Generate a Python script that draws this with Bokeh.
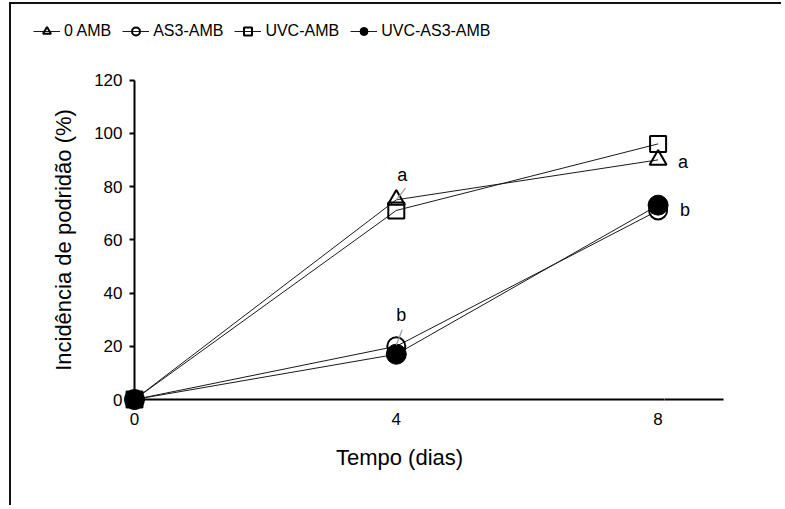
from bokeh.plotting import figure
from bokeh.models import Range1d, FixedTicker, Legend, LegendItem
from bokeh.core.properties import value
from bokeh.embed import file_html
from bokeh.resources import INLINE

# ---- data ----
days = [0, 4, 8]
amb_0 = [0, 75, 90]
as3_amb = [0, 20, 71]
uvc_amb = [0, 71, 96]
uvc_as3_amb = [0, 17, 73]
series_names = ["0 AMB", "AS3-AMB", "UVC-AMB", "UVC-AS3-AMB"]
x_ticks = [0, 4, 8]
y_ticks = [0, 20, 40, 60, 80, 100, 120]
x_title = "Tempo (dias)"
y_title = "Incidência de podridão (%)"
sig_letters = ["a", "b", "a", "b"]

FONT = "Liberation Sans"

# ---- layout: the frame fills the whole canvas; axes sit at the data origin ----
W, H = 772, 503            # canvas size (starts at page x=11, y=4)
X0_PX, X_PX_PER_UNIT = 123, 65.45   # canvas x of day 0, pixels per day
Y0_PX, Y_PX_PER_UNIT = 395, 2.6625  # canvas y of 0 %, pixels per %
x_range = Range1d(-X0_PX / X_PX_PER_UNIT, (W - X0_PX) / X_PX_PER_UNIT)
y_range = Range1d(-(H - Y0_PX) / Y_PX_PER_UNIT, Y0_PX / Y_PX_PER_UNIT)

p = figure(width=W, height=H, output_backend="svg", toolbar_location=None,
           x_range=x_range, y_range=y_range,
           min_border_left=0, min_border_right=0, min_border_top=0, min_border_bottom=0,
           styles={"margin-left": "9px", "margin-top": "2px",
                   "border-left": "2px solid #111", "border-top": "2px solid #111"})
p.grid.visible = False
p.outline_line_color = None
p.background_fill_color = "white"
p.border_fill_color = "white"

# x axis (its title is centred on the 0..8.1 span, as in the original chart)
xa = p.xaxis[0]
xa.fixed_location = 0
xa.bounds = (0, 8.1)
xa.ticker = FixedTicker(ticks=x_ticks)
xa.major_tick_out = 0
xa.major_tick_in = 0
xa.minor_tick_out = 0
xa.minor_tick_in = 0
xa.axis_line_width = 2
xa.axis_line_color = "black"
xa.major_label_text_font = FONT
xa.major_label_text_font_size = "17px"
xa.major_label_text_color = "black"
xa.major_label_standoff = 13
xa.axis_label = x_title
xa.axis_label_text_font = FONT
xa.axis_label_text_font_size = "22px"
xa.axis_label_text_font_style = "normal"
xa.axis_label_text_color = "black"
xa.axis_label_standoff = 17
# the rest of the x axis line, out to day 9
p.segment(x0=[8.1], y0=[0], x1=[9.0], y1=[0], line_color="black", line_width=2)

# y axis
ya = p.yaxis[0]
ya.fixed_location = 0
ya.bounds = (0, 120)
ya.ticker = FixedTicker(ticks=y_ticks)
ya.major_tick_out = 5
ya.major_tick_in = 0
ya.major_tick_line_width = 2
ya.major_tick_line_color = "black"
ya.minor_tick_out = 0
ya.minor_tick_in = 0
ya.axis_line_width = 2
ya.axis_line_color = "black"
ya.major_label_text_font = FONT
ya.major_label_text_font_size = "17px"
ya.major_label_text_color = "black"
ya.major_label_standoff = 7
ya.axis_label = y_title
ya.axis_label_text_font = FONT
ya.axis_label_text_font_size = "22px"
ya.axis_label_text_font_style = "normal"
ya.axis_label_text_color = "black"
ya.axis_label_standoff = 15

LINE_COL = "#1a1a1a"
series = [amb_0, as3_amb, uvc_amb, uvc_as3_amb]
lines = [p.line(days, s, line_color=LINE_COL, line_width=1) for s in series]

m_tri = p.scatter(days, amb_0, marker="triangle", size=17, fill_color=None,
                  line_color="black", line_width=2)
m_oc = p.scatter(days, as3_amb, marker="circle", size=18, fill_color=None,
                 line_color="black", line_width=2)
m_sq = p.scatter(days, uvc_amb, marker="square", size=16, fill_color=None,
                 line_color="black", line_width=2)
m_fc = p.scatter(days, uvc_as3_amb, marker="circle", size=20, fill_color="black",
                 line_color="black", line_width=1)
markers = [m_tri, m_oc, m_sq, m_fc]

# significance letters and leader lines
sig_x = [days[1], days[1], days[2], days[2]]
sig_y = [amb_0[1], as3_amb[1], amb_0[2], as3_amb[2]]
p.segment(x0=[days[1], days[1]], y0=[amb_0[1], as3_amb[1] + 0.5],
          x1=[days[1] + 0.14, days[1] + 0.09], y1=[amb_0[1] + 4.4, as3_amb[1] + 6.2],
          line_color="#9a9a9a", line_width=1.2)
p.text(x=sig_x, y=sig_y, text=sig_letters, x_offset=[6, 5, 25, 27], y_offset=[-25, -31, 2, 0],
       text_font=value(FONT), text_font_size="18px", text_color="black",
       text_align="center", text_baseline="middle")

legend = Legend(items=[LegendItem(label=n, renderers=[l, m]) for n, l, m in zip(series_names, lines, markers)],
                orientation="horizontal", location=(22, 466), padding=0, margin=0,
                spacing=11, glyph_width=27, glyph_height=20, label_height=20,
                label_standoff=4, border_line_color=None, background_fill_alpha=0,
                label_text_font=FONT, label_text_font_size="16px", label_text_color="black")
p.add_layout(legend)

open("out.html", "w").write(file_html(p, INLINE))
